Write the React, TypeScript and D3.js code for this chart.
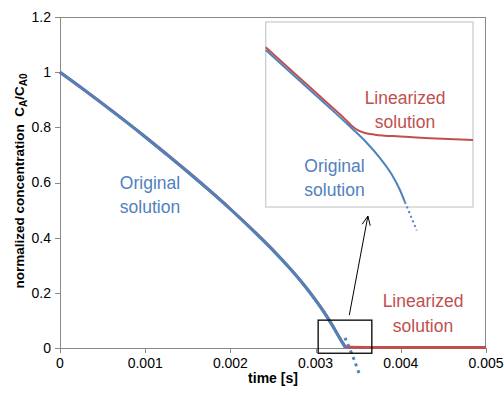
import React from 'react';
import * as d3 from 'd3';

// Main chart: normalized concentration vs. time
const time = [0, 0.00025, 0.0005, 0.00075, 0.001, 0.00125, 0.0015, 0.00175, 0.002, 0.00225, 0.0025, 0.0027, 0.0029, 0.003, 0.0031, 0.0032, 0.0033, 0.00335];
const original = [1, 0.944, 0.885, 0.826, 0.765, 0.702, 0.638, 0.572, 0.503, 0.43, 0.354, 0.288, 0.214, 0.173, 0.129, 0.08, 0.026, 0.0];
const originalTailTime = [0.003345, 0.00343, 0.003521];
const originalTail = [0.037, -0.025, -0.101];
const linTime = [0, 0.0005, 0.001, 0.0015, 0.002, 0.0025, 0.0029, 0.0031, 0.0032, 0.0033, 0.00336, 0.0034, 0.0036, 0.004, 0.0045, 0.005];
const linearized = [1, 0.886, 0.766, 0.639, 0.504, 0.355, 0.215, 0.13, 0.081, 0.028, 0.004, 0.0025, 0.002, 0.0018, 0.0016, 0.0015];

const xTicks = [0, 0.001, 0.002, 0.003, 0.004, 0.005];
const xTickLabels = ['0', '0.001', '0.002', '0.003', '0.004', '0.005'];
const yTicks = [0, 0.2, 0.4, 0.6, 0.8, 1, 1.2];
const yTickLabels = ['0', '0.2', '0.4', '0.6', '0.8', '1', '1.2'];

// Magnified window near the end of the reaction
const zoomTime = [0.00303, 0.00366];
const zoomConc = [-0.019, 0.101];
const insetConc = [0, 0.1];
const insetTime = [0.00303, 0.003134, 0.003225, 0.003286, 0.003332, 0.003377, 0.003414, 0.003438, 0.003453];
const insetOriginal = [0.0849, 0.0681, 0.0535, 0.0435, 0.0357, 0.0265, 0.0173, 0.0092, 0.0027];
const insetTailTime = [0.003453, 0.003489];
const insetTail = [0.0027, -0.0126];
const insetLinTime = [0.00303, 0.003134, 0.003225, 0.003271, 0.003292, 0.003311, 0.003332, 0.003362, 0.003438, 0.003529, 0.00366];
const insetLinearized = [0.0863, 0.0696, 0.055, 0.0475, 0.0438, 0.0414, 0.04, 0.0391, 0.0381, 0.0372, 0.0362];

const W = 504;
const H = 395;
const plot = { left: 60, right: 486, top: 17, bottom: 348 };
const inset = { left: 265.7, right: 473, top: 22, bottom: 207 };

const BLUE = '#4F81BD';
const RED = '#C0504D';
const AXIS = '#898989';
const FONT = '"Liberation Sans", Arial, sans-serif';

const zip = (xs: number[], ys: number[]) => xs.map((x, i) => [x, ys[i]] as [number, number]);

export default function App() {
  const x = d3.scaleLinear().domain([0, 0.005]).range([plot.left, plot.right]);
  const y = d3.scaleLinear().domain([0, 1.2]).range([plot.bottom, plot.top]);
  const line = d3
    .line<[number, number]>()
    .x((d) => x(d[0]))
    .y((d) => y(d[1]))
    .curve(d3.curveMonotoneX);

  const ix = d3.scaleLinear().domain(zoomTime).range([inset.left, inset.right]);
  const iy = d3.scaleLinear().domain(insetConc).range([inset.bottom, inset.top]);
  const iline = d3
    .line<[number, number]>()
    .x((d) => ix(d[0]))
    .y((d) => iy(d[1]))
    .curve(d3.curveMonotoneX);

  // window rectangle on the main axes
  const rx0 = x(zoomTime[0]);
  const rx1 = x(zoomTime[1]);
  const ry0 = y(zoomConc[1]);
  const ry1 = y(zoomConc[0]);

  // arrow from the window up to the inset
  const a0: [number, number] = [rx0 + 0.58 * (rx1 - rx0), ry0 - 5];
  const a1: [number, number] = [inset.left + 0.493 * (inset.right - inset.left), inset.bottom + 9];
  const ang = Math.atan2(a1[1] - a0[1], a1[0] - a0[0]);
  const headLen = 10;
  const headSpread = 0.42;
  const h1: [number, number] = [a1[0] - headLen * Math.cos(ang - headSpread), a1[1] - headLen * Math.sin(ang - headSpread)];
  const h2: [number, number] = [a1[0] - headLen * Math.cos(ang + headSpread), a1[1] - headLen * Math.sin(ang + headSpread)];

  return (
    <svg
      width={W}
      height={H}
      style={{ position: 'absolute', left: 0, top: 0, background: '#fff' }}
      fontFamily={FONT}
    >
      <rect x={0} y={0} width={W} height={H} fill="#fff" />

      {/* plot frame */}
      <line x1={plot.left} x2={plot.right} y1={plot.top + 0.5} y2={plot.top + 0.5} stroke={AXIS} strokeWidth={1} />
      <line x1={plot.right - 0.5} x2={plot.right - 0.5} y1={plot.top} y2={plot.bottom} stroke={AXIS} strokeWidth={1} />

      {/* y axis */}
      <line x1={plot.left + 0.5} x2={plot.left + 0.5} y1={plot.top} y2={plot.bottom + 5} stroke={AXIS} strokeWidth={1} />
      {yTicks.map((t, i) => (
        <g key={'y' + i}>
          <line x1={plot.left - 5} x2={plot.left} y1={Math.round(y(t)) + 0.5} y2={Math.round(y(t)) + 0.5} stroke={AXIS} />
          <text x={51} y={y(t)} dy="0.35em" textAnchor="end" fontSize={14} fill="#000">
            {yTickLabels[i]}
          </text>
        </g>
      ))}

      {/* x axis */}
      <line x1={plot.left} x2={plot.right} y1={plot.bottom + 0.5} y2={plot.bottom + 0.5} stroke={AXIS} strokeWidth={1} />
      {xTicks.map((t, i) => (
        <g key={'x' + i}>
          <line x1={Math.round(x(t)) + 0.5} x2={Math.round(x(t)) + 0.5} y1={plot.bottom} y2={plot.bottom + 5} stroke={AXIS} />
          <text x={x(t)} y={368} textAnchor="middle" fontSize={14} fill="#000">
            {xTickLabels[i]}
          </text>
        </g>
      ))}

      {/* axis titles */}
      <text x={273} y={383} textAnchor="middle" fontSize={14} fontWeight="bold" fill="#000">
        time [s]
      </text>
      <text
        transform="translate(24,181) rotate(-90)"
        textAnchor="middle"
        fontSize={13.5}
        fontWeight="bold"
        fill="#000"
        style={{ whiteSpace: 'pre' }}
      >
        {'normalized concentration  C'}
        <tspan dy={3} fontSize={10}>A</tspan>
        <tspan dy={-3}>/C</tspan>
        <tspan dy={3} fontSize={10}>A0</tspan>
      </text>

      {/* series */}
      <path d={line(zip(linTime, linearized)) || ''} fill="none" stroke={RED} strokeWidth={3} />
      <path d={line(zip(time, original)) || ''} fill="none" stroke={BLUE} strokeWidth={3} />
      <path
        d={line(zip(originalTailTime, originalTail)) || ''}
        fill="none"
        stroke={BLUE}
        strokeWidth={3}
        strokeDasharray="3 4"
      />

      {/* window rectangle and arrow */}
      <rect x={rx0} y={ry0} width={rx1 - rx0} height={ry1 - ry0} fill="none" stroke="#000" strokeWidth={1.3} />
      <line x1={a0[0]} y1={a0[1]} x2={a1[0]} y2={a1[1]} stroke="#000" strokeWidth={1} />
      <polyline points={`${h1[0]},${h1[1]} ${a1[0]},${a1[1]} ${h2[0]},${h2[1]}`} fill="none" stroke="#000" strokeWidth={1} />

      {/* main labels */}
      <text x={150} textAnchor="middle" fontSize={17.5} fill={BLUE}>
        <tspan x={150} y={189}>Original</tspan>
        <tspan x={150} y={213}>solution</tspan>
      </text>
      <text x={423} textAnchor="middle" fontSize={17.5} fill={RED}>
        <tspan x={423} y={307}>Linearized</tspan>
        <tspan x={423} y={332}>solution</tspan>
      </text>

      {/* inset */}
      <rect
        x={inset.left}
        y={inset.top}
        width={inset.right - inset.left}
        height={inset.bottom - inset.top}
        fill="#fff"
        stroke="#C8C8C8"
        strokeWidth={1.2}
      />
      <path d={iline(zip(insetLinTime, insetLinearized)) || ''} fill="none" stroke={RED} strokeWidth={2} />
      <path d={iline(zip(insetTime, insetOriginal)) || ''} fill="none" stroke={BLUE} strokeWidth={2} />
      <path
        d={iline(zip(insetTailTime, insetTail)) || ''}
        fill="none"
        stroke={BLUE}
        strokeWidth={2}
        strokeDasharray="2 3"
      />
      <text textAnchor="middle" fontSize={17.5} fill={RED}>
        <tspan x={405} y={104}>Linearized</tspan>
        <tspan x={405} y={128}>solution</tspan>
      </text>
      <text textAnchor="middle" fontSize={17.5} fill={BLUE}>
        <tspan x={334.5} y={172}>Original</tspan>
        <tspan x={334.5} y={196}>solution</tspan>
      </text>
    </svg>
  );
}
